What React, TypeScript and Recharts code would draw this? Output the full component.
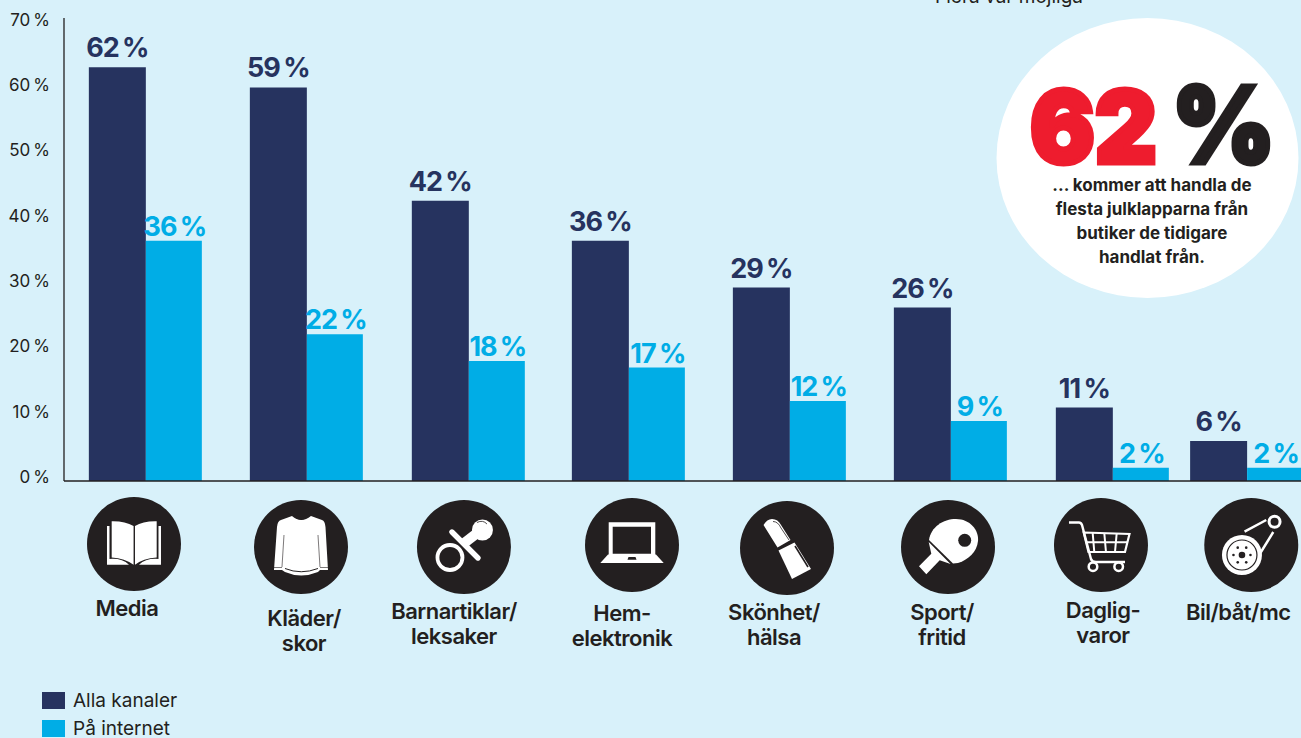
import { BarChart, Bar, XAxis, YAxis, LabelList, Legend, ReferenceLine } from 'recharts';

const categories = ['Media', 'Kläder/ skor', 'Barnartiklar/ leksaker', 'Hem- elektronik', 'Skönhet/ hälsa', 'Sport/ fritid', 'Daglig- varor', 'Bil/båt/mc'];
// the last group sits closer to its neighbour, so categories are placed on a numeric axis
const slots = [0, 1, 2.006, 3, 4, 5, 6.006, 6.84];
const allChannels = [62, 59, 42, 36, 29, 26, 11, 6];
const online = [36, 22, 18, 17, 12, 9, 2, 2];
const yTicks = [0, 10, 20, 30, 40, 50, 60, 70];

const data = categories.map((name, i) => ({
  name,
  slot: slots[i],
  alla: allChannels[i],
  internet: online[i],
}));

const BG = '#d8f1fa';
const NAVY = '#26335f';
const CYAN = '#00ade6';
const INK = '#231f20';
const FONT = 'Inter, sans-serif';
const X_MIN = -0.503;
const X_MAX = 7.18;

const percent = (v: number) => `${v}\u2009%`;

// small pictograms, drawn in a 100x100 box around the disc
const Book = () => (
  <g>
    <path d="M23 32H25.5V65Q38 64 45 70.7H23Z M77 32H74.5V65Q62 64 55 70.7H77Z" fill="#fff" />
    <path d="M27.7 27.3Q41 27 49.6 32V70.7Q41 64.5 27.7 63.5Z M72.7 27.3Q59 27 51 32V70.7Q59 64.5 72.7 63.5Z" fill="#fff" />
  </g>
);
const Sweater = () => (
  <g>
    <path d="M41 19Q50 27 60 19L71 23Q74 24 74.5 30L77 73H69L67 75Q50 82 34 75L31 73H23L26 30Q26.500 24 30 23Z" fill="#fff" />
    <path d="M43 19Q50 25.500 58 19" fill="none" stroke={INK} strokeWidth={1} />
    <path d="M33 38L31 70M67 38L69 70M23 70.500H31M69 70.500H77" fill="none" stroke={INK} strokeWidth={0.8} opacity={0.75} />
    <path d="M34 71.500Q50 78 67 71.500" fill="none" stroke={INK} strokeWidth={1} />
  </g>
);
const Pacifier = () => (
  <g>
    <circle cx={36} cy={60.500} r={12.500} fill="none" stroke="#fff" strokeWidth={3.8} />
    <path d="M38 35L64 61" stroke="#fff" strokeWidth={5.4} strokeLinecap="round" />
    <path d="M49 47L62 37" stroke="#fff" strokeWidth={10} />
    <circle cx={68.500} cy={33} r={10.500} fill="#fff" />
    <path d="M63 25.500Q69 22.500 73 27" fill="none" stroke={INK} strokeWidth={0.8} />
  </g>
);
const Laptop = () => (
  <g>
    <path d="M26.700 27.300H73.300V60H26.700Z M30.700 31.700V58.700H69V31.700Z" fill="#fff" fillRule="evenodd" />
    <path d="M26 59.500H74L81.700 68H18.300Z" fill="#fff" />
    <path d="M46.500 62H53.500L54.500 64.700H45.500Z" fill={INK} />
  </g>
);
const Lipstick = () => (
  <g>
    <path d="M26.500 27Q30 21 35 21Q41 21 44 27L53.500 42L40.500 49.500Z" fill="#fff" />
    <path d="M36 23.500Q41 23.500 44 30L52 42" fill="none" stroke={INK} strokeWidth={0.8} />
    <path d="M41.500 52.500L57.500 44.500L74 71L55 81Z" fill="#fff" />
    <path d="M58 48L71 69" fill="none" stroke={INK} strokeWidth={1.6} />
  </g>
);
const Paddle = () => (
  <g>
    <path d="M31 43C33 30 45 22 58 22C72 22 81 33 80 44C79 55 70 63 60 66L55 66.500Z" fill="#fff" />
    <path d="M30.700 45L52.500 67L41.700 63.300L28.300 77.300L21 69.300L33.300 56.700Z" fill="#fff" />
    <circle cx={66.700} cy={43.300} r={6.500} fill={INK} />
  </g>
);
const Cart = () => (
  <g fill="none" stroke="#fff">
    <path d="M18 27.500H28Q30 27.500 31 30L40 64Q41 67 45 67H74" strokeWidth={2.4} />
    <path d="M32.700 37.500L78.500 39L74 57H37.500Z" strokeWidth={2.2} />
    <path d="M41.700 38L43.300 57M53.300 38L55 57M65.700 38.500L64 57M35 47.300H76.500" strokeWidth={2} />
    <circle cx={42} cy={71.700} r={4.300} strokeWidth={2.5} />
    <circle cx={67.700} cy={71.700} r={4.300} strokeWidth={2.5} />
  </g>
);
const Pulley = () => (
  <g>
    <path d="M56 63L72 37M43.300 36.700L65 25" stroke="#fff" strokeWidth={2.5} fill="none" />
    <circle cx={40.700} cy={60} r={20} fill="#fff" />
    <circle cx={40.700} cy={60} r={15} fill="none" stroke={INK} strokeWidth={1.2} />
    <circle cx={40.700} cy={60} r={3.300} fill={INK} />
    {[0, 60, 120, 180, 240, 300].map((a) => (
      <circle
        key={a}
        cx={40.700 + 8.500 * Math.cos((a * Math.PI) / 180)}
        cy={60 + 8.500 * Math.sin((a * Math.PI) / 180)}
        r={1.300}
        fill={INK}
      />
    ))}
    <circle cx={73.300} cy={26.700} r={5.500} fill={INK} stroke="#fff" strokeWidth={3} />
  </g>
);

const icons = [Book, Sweater, Pacifier, Laptop, Lipstick, Paddle, Cart, Pulley];

// offsets from the group centre to the disc and the caption, and the baselines of the caption
const iconOffset = [
  [-11, 63], [-5, 66], [-4, 66], [4, 64], [-2, 67], [-2, 66], [-11, 64], [5, 64],
];
const captionX = [-18, -2, -14, -6, -15, -8, -9, -8];
const captionY = [135, 145, 138, 140, 139, 139, 137, 139];

const CategoryTick = (props: any) => {
  const { x, y, index } = props;
  const Icon = icons[index];
  const [dx, dy] = iconOffset[index];
  const lines = categories[index].split(' ');
  return (
    <g>
      <g transform={`translate(${x + dx - 50},${y + dy - 50})`}>
        <circle cx={50} cy={50} r={47} fill={INK} />
        <Icon />
      </g>
      <text textAnchor="middle" fontFamily={FONT} fontWeight={600} fontSize={22} letterSpacing={-0.5} fill={INK}>
        {lines.map((line, i) => (
          <tspan key={line} x={x + captionX[index]} y={y + captionY[index] + i * 25}>
            {line}
          </tspan>
        ))}
      </text>
    </g>
  );
};

// the printed scale runs slightly tighter than the bars, so labels drift from their gridline
const ValueTick = (props: any) => {
  const { x, y, payload } = props;
  return (
    <text x={x} y={y + 2 + 0.14 * payload.value} textAnchor="end" fontFamily={FONT} fontSize={17} fill={INK}>
      {percent(payload.value)}
    </text>
  );
};

const LegendRows = ({ payload }: any) => (
  <div style={{ fontFamily: FONT, fontSize: 19, color: INK }}>
    {payload.map((row: any) => (
      <div key={row.value} style={{ display: 'flex', alignItems: 'center', height: 28 }}>
        <span style={{ width: 23, height: 17, background: row.color, marginRight: 8 }} />
        {row.value}
      </div>
    ))}
  </div>
);

export default function App() {
  return (
    <div style={{ position: 'absolute', left: 0, top: 0, width: 1301, height: 738, background: BG, overflow: 'hidden' }}>
      <BarChart
        width={1301}
        height={738}
        data={data}
        barGap={0}
        margin={{ top: 14, right: 0, bottom: 0, left: 0 }}
      >
        <XAxis
          dataKey="slot"
          type="number"
          domain={[X_MIN, X_MAX]}
          ticks={slots}
          interval={0}
          height={257}
          tickLine={false}
          tickSize={0}
          tickMargin={0}
          stroke={INK}
          strokeWidth={1.3}
          tick={<CategoryTick />}
        />
        <YAxis
          width={64}
          domain={[0, 70]}
          ticks={yTicks}
          interval={0}
          axisLine={false}
          tickLine={false}
          tickSize={0}
          tickMargin={14}
          tick={<ValueTick />}
        />
        <ReferenceLine
          segment={[{ x: X_MIN, y: 0 }, { x: X_MIN, y: 69.4 }]}
          stroke={INK}
          strokeWidth={1.3}
        />
        <Legend
          layout="vertical"
          align="center"
          verticalAlign="middle"
          content={<LegendRows />}
          wrapperStyle={{ left: 42, top: 686, width: 200 }}
        />
        <Bar dataKey="alla" name="Alla kanaler" fill={NAVY} barSize={57} isAnimationActive={false}>
          <LabelList
            dataKey="alla"
            position="top"
            offset={10}
            formatter={percent}
            fill={NAVY}
            fontFamily={FONT}
            fontWeight={700}
            fontSize={27}
            letterSpacing={-1}
          />
        </Bar>
        <Bar dataKey="internet" name="På internet" fill={CYAN} barSize={56} isAnimationActive={false}>
          <LabelList
            dataKey="internet"
            position="top"
            offset={5}
            dx={1}
            formatter={percent}
            fill={CYAN}
            fontFamily={FONT}
            fontWeight={700}
            fontSize={27}
            letterSpacing={-1}
          />
        </Bar>

        <text x={1009} y={3} textAnchor="middle" fontFamily={FONT} fontSize={19} fill={INK}>Flera var möjliga</text>

        <ellipse cx={1147.5} cy={158} rx={151} ry={140} fill="#fff" />
        <text x={1030} y={163} fontFamily={FONT} fontWeight={900} fontSize={100} fill="#ee1c2e" stroke="#ee1c2e" strokeWidth={5} textLength={127} lengthAdjust="spacingAndGlyphs">62</text>
        <text x={1172} y={163} fontFamily={FONT} fontWeight={900} fontSize={106} fill={INK} stroke={INK} strokeWidth={5} textLength={103} lengthAdjust="spacingAndGlyphs">%</text>
        <text textAnchor="middle" fontFamily={FONT} fontWeight={700} fontSize={17} fill={INK}>
          <tspan x={1152} y={191}>... kommer att handla de</tspan>
          <tspan x={1152} y={215}>flesta julklapparna från</tspan>
          <tspan x={1152} y={239}>butiker de tidigare</tspan>
          <tspan x={1152} y={263}>handlat från.</tspan>
        </text>
      </BarChart>
    </div>
  );
}
